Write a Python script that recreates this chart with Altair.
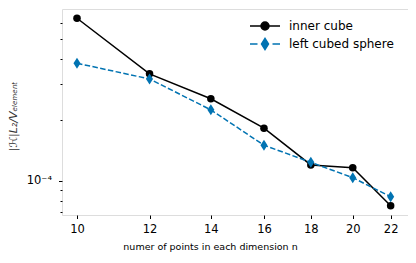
import altair as alt
import pandas as pd

n_points = [10, 12, 14, 16, 18, 20, 22]
inner_cube = [6.33e-4, 3.37e-4, 2.54e-4, 1.82e-4, 1.20e-4, 1.163e-4, 7.55e-5]
left_sphere = [3.80e-4, 3.18e-4, 2.24e-4, 1.50e-4, 1.236e-4, 1.038e-4, 8.37e-5]
series_names = ["inner cube", "left cubed sphere"]
series_colors = ["black", "#0173b2"]
y_ticks = [7e-5, 8e-5, 9e-5, 1e-4, 2e-4, 3e-4, 4e-4, 5e-4, 6e-4]

df = pd.DataFrame({
    "n": n_points + n_points,
    "value": inner_cube + left_sphere,
    "series": [series_names[0]] * len(n_points) + [series_names[1]] * len(n_points),
})

x_enc = alt.X(
    "n:Q",
    scale=alt.Scale(type="log", domain=[9.63, 22.98], nice=False),
    axis=alt.Axis(
        values=n_points, format="d", title="numer of points in each dimension n",
        grid=False, domain=False, tickSize=3.5, tickColor="black",
        labelFont="DejaVu Sans", labelFontSize=11.5, labelColor="black",
        labelPadding=5, labelFlush=False,
        titleFont="DejaVu Sans", titleFontSize=9.5, titleFontWeight="normal",
        titleColor="black", titlePadding=6, titleX=148,
    ),
)
y_enc = alt.Y(
    "value:Q",
    scale=alt.Scale(type="log", domain=[6.8e-5, 7.03e-4], nice=False),
    axis=alt.Axis(
        values=y_ticks,
        labelExpr="abs(datum.value - 0.0001) < 1e-9 ? '10⁻⁴' : ''",
        title="|ℋ|L₂/Vₑₗₑₘₑₙₜ",
        grid=False, domain=False,
        tickSize={"condition": {"test": "abs(datum.value - 0.0001) < 1e-9", "value": 3.5}, "value": 2},
        tickColor="black",
        labelFont="DejaVu Sans", labelFontSize=11.5, labelColor="black", labelPadding=7,
        titleFont="DejaVu Sans", titleFontSize=11, titleFontStyle="italic",
        titleFontWeight="normal", titleColor="#333", titleX=-44, titleY=107,
        titleAlign="center",
    ),
)

circle_legend = "M-3,0H3M0.8,0A0.8,0.8 0 1,1 -0.8,0A0.8,0.8 0 1,1 0.8,0Z"
diamond_legend = "M-3,0H-1.5M1.5,0H3M0,-1.1L0.7,0L0,1.1L-0.7,0Z"
thin_diamond = "M0,-1L0.64,0L0,1L-0.64,0Z"

base = alt.Chart(df)

black_line = base.transform_filter(alt.datum.series == series_names[0]).mark_line(
    color=series_colors[0], strokeWidth=1.5).encode(x=x_enc, y=y_enc)
black_pts = base.transform_filter(alt.datum.series == series_names[0]).mark_point(
    color=series_colors[0], filled=True, opacity=1, size=57, shape="circle").encode(x=x_enc, y=y_enc)
blue_line = base.transform_filter(alt.datum.series == series_names[1]).mark_line(
    color=series_colors[1], strokeWidth=1.5, strokeDash=[5.5, 2.4]).encode(x=x_enc, y=y_enc)
blue_pts = base.transform_filter(alt.datum.series == series_names[1]).mark_point(
    color=series_colors[1], filled=True, opacity=1, size=121, shape=thin_diamond).encode(x=x_enc, y=y_enc)

leg = alt.Legend(
    title=None, orient="none", legendX=197, legendY=11,
    labelFont="DejaVu Sans", labelFontSize=12, labelColor="black",
    labelOffset=18, rowPadding=2, symbolOpacity=1, symbolStrokeWidth=1.5,
    symbolSize=100,
)
legend_layer = base.mark_point(filled=True, opacity=0, size=100).encode(
    x=x_enc, y=y_enc,
    shape=alt.Shape("series:N", scale=alt.Scale(domain=series_names, range=[circle_legend, diamond_legend]), legend=leg),
    fill=alt.Fill("series:N", scale=alt.Scale(domain=series_names, range=series_colors), legend=leg),
    stroke=alt.Stroke("series:N", scale=alt.Scale(domain=series_names, range=series_colors), legend=leg),
)

chart = alt.layer(legend_layer, black_line, black_pts, blue_line, blue_pts).properties(
    width=346, height=206,
    autosize=alt.AutoSizeParams(type="none"),
    padding={"left": 54, "top": 1, "right": 0, "bottom": 40},
).configure_view(stroke="#333", strokeWidth=1).configure(background="white")

chart.save("out.html", embed_options={"renderer": "svg", "actions": False})
